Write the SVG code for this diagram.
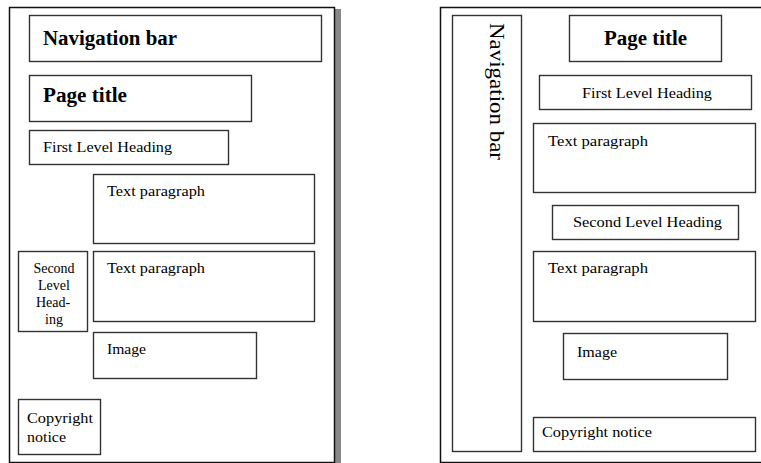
<svg xmlns="http://www.w3.org/2000/svg" width="761" height="463" viewBox="0 0 761 463">
<style>
.frame{fill:#fff;stroke:#111;stroke-width:1.5}
.box{fill:#fff;stroke:#333;stroke-width:1.4}
.big{font-family:"Liberation Serif","Times New Roman",serif;font-size:20px;font-weight:bold;fill:#000}
.vert{font-family:"Liberation Serif","Times New Roman",serif;font-size:21px;fill:#000}
.t{font-family:"Liberation Serif","Times New Roman",serif;font-size:14px;fill:#000}
.c{text-anchor:middle}
</style>
<rect width="761" height="463" fill="#fff"/>
<g id="left-page">
<rect x="335" y="9" width="6" height="455" fill="#888"/>
<rect class="frame" x="9.5" y="7.5" width="325" height="455"/>
</g>
<g id="left-nav"><rect class="box" x="29.5" y="15.5" width="292" height="46"/><text class="big" x="43" y="45" textLength="134" lengthAdjust="spacingAndGlyphs">Navigation bar</text></g>
<g id="left-title"><rect class="box" x="29.5" y="75.5" width="222" height="46"/><text class="big" x="43" y="102" textLength="84" lengthAdjust="spacingAndGlyphs">Page title</text></g>
<g id="left-h1"><rect class="box" x="29.5" y="130.5" width="199" height="34"/><text class="t" x="43" y="152" textLength="129" lengthAdjust="spacingAndGlyphs">First Level Heading</text></g>
<g id="left-p1"><rect class="box" x="93.5" y="174.5" width="221" height="69"/><text class="t" x="107" y="196" textLength="98" lengthAdjust="spacingAndGlyphs">Text paragraph</text></g>
<g id="left-h2"><rect class="box" x="18.5" y="251.5" width="69" height="80"/>
<text class="t c" x="54" y="273">Second</text><text class="t c" x="54" y="290">Level</text><text class="t c" x="53" y="307">Head-</text><text class="t c" x="54" y="324">ing</text></g>
<g id="left-p2"><rect class="box" x="93.5" y="251.5" width="221" height="70"/><text class="t" x="107" y="273" textLength="98" lengthAdjust="spacingAndGlyphs">Text paragraph</text></g>
<g id="left-image"><rect class="box" x="93.5" y="332.5" width="163" height="46"/><text class="t" x="107" y="354" textLength="39" lengthAdjust="spacingAndGlyphs">Image</text></g>
<g id="left-copy"><rect class="box" x="18.5" y="399.5" width="82" height="55"/><text class="t" x="27" y="423" textLength="66" lengthAdjust="spacingAndGlyphs">Copyright</text><text class="t" x="27" y="442" textLength="39" lengthAdjust="spacingAndGlyphs">notice</text></g>

<g id="right-page"><rect class="frame" x="440.5" y="7.5" width="340" height="455"/></g>
<g id="right-nav"><rect class="box" x="452.5" y="15.5" width="69" height="436"/><text class="vert" transform="translate(490,23) rotate(90)" textLength="137" lengthAdjust="spacingAndGlyphs">Navigation bar</text></g>
<g id="right-title"><rect class="box" x="569.5" y="15.5" width="152" height="46"/><text class="big" x="604" y="45" textLength="83" lengthAdjust="spacingAndGlyphs">Page title</text></g>
<g id="right-h1"><rect class="box" x="539.5" y="75.5" width="212" height="34"/><text class="t" x="582" y="98" textLength="130" lengthAdjust="spacingAndGlyphs">First Level Heading</text></g>
<g id="right-p1"><rect class="box" x="533.5" y="123.5" width="222" height="69"/><text class="t" x="548" y="146" textLength="100" lengthAdjust="spacingAndGlyphs">Text paragraph</text></g>
<g id="right-h2"><rect class="box" x="552.5" y="205.5" width="186" height="34"/><text class="t" x="573" y="227" textLength="149" lengthAdjust="spacingAndGlyphs">Second Level Heading</text></g>
<g id="right-p2"><rect class="box" x="533.5" y="251.5" width="222" height="70"/><text class="t" x="548" y="273" textLength="100" lengthAdjust="spacingAndGlyphs">Text paragraph</text></g>
<g id="right-image"><rect class="box" x="563.5" y="333.5" width="164" height="46"/><text class="t" x="577" y="357" textLength="40" lengthAdjust="spacingAndGlyphs">Image</text></g>
<g id="right-copy"><rect class="box" x="533.5" y="417.5" width="222" height="34"/><text class="t" x="542" y="437" textLength="110" lengthAdjust="spacingAndGlyphs">Copyright notice</text></g>
<g id="connectors"></g>
</svg>
